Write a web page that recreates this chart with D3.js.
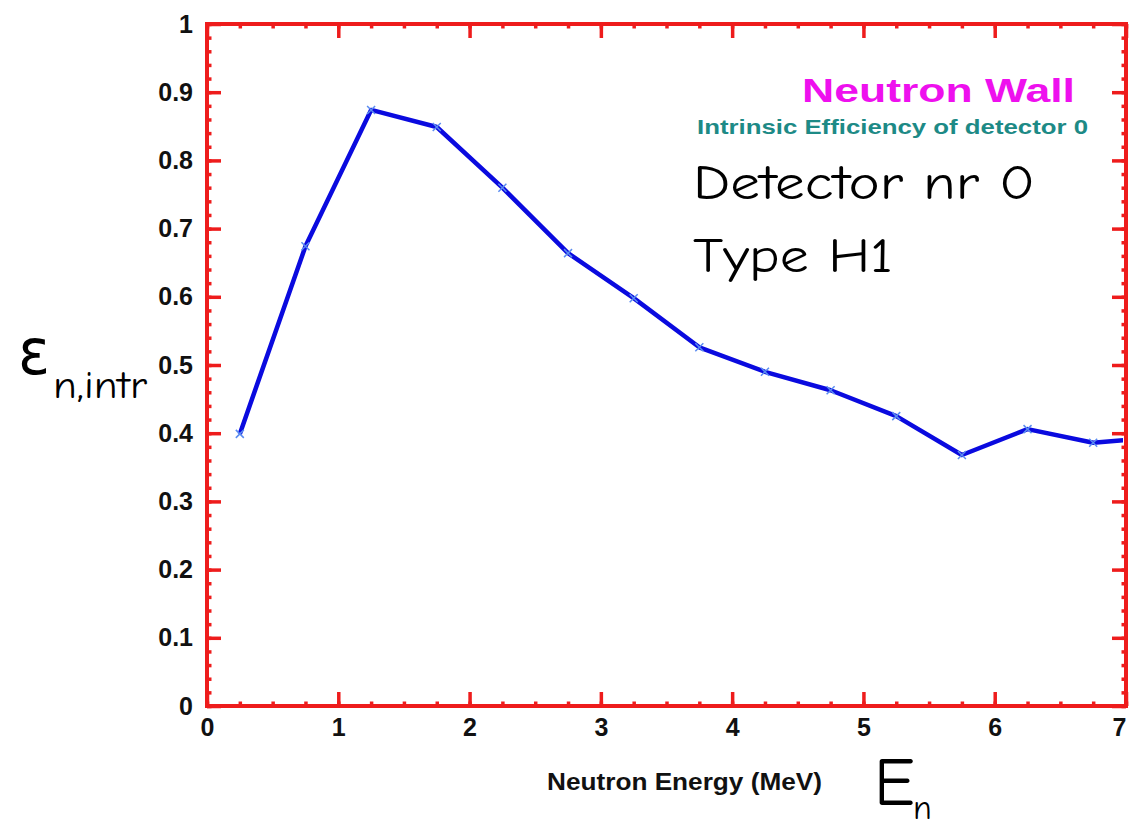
<!DOCTYPE html>
<html>
<head>
<meta charset="utf-8">
<script src="https://cdn.jsdelivr.net/npm/d3@7"></script>
<style>
  body { margin: 0; background: #fff; }
  .tick text { font-family: "Liberation Sans", Arial, sans-serif; font-weight: bold; font-size: 25px; fill: #111; }
  .comic { font-family: "Comic Sans MS", "Comic Neue", "DejaVu Sans", sans-serif; fill: #000; }
</style>
</head>
<body>
<svg id="chart" width="1129" height="829"></svg>
<script>
// neutron energy bins (MeV) and intrinsic efficiency of detector 0
const energy = [0.25, 0.75, 1.25, 1.75, 2.25, 2.75, 3.25, 3.75, 4.25, 4.75, 5.25, 5.75, 6.25, 6.75, 7.25];
const efficiency = [0.399, 0.674, 0.874, 0.849, 0.760, 0.664, 0.598, 0.526, 0.490, 0.463, 0.425, 0.368, 0.406, 0.386, 0.394];
const xTicks = [0, 1, 2, 3, 4, 5, 6, 7];
const yTicks = [0, 0.1, 0.2, 0.3, 0.4, 0.5, 0.6, 0.7, 0.8, 0.9, 1];

const mLeft = 207, mRight = 1126, mTop = 24, mBottom = 706;
const red = "#ee1c1c";

const svg = d3.select("#chart");

const x = d3.scaleLinear().domain([0, 7]).range([mLeft, mRight]);
const y = d3.scaleLinear().domain([0, 1]).range([mBottom, mTop]);

// axes: major + minor ticks, all pointing inward
function styleAxis(g) {
  g.select(".domain").remove();
  g.selectAll(".tick line").attr("stroke", red).attr("stroke-width", 3.5);
}

svg.append("g").attr("transform", `translate(${mLeft},0)`)
  .call(d3.axisLeft(y).tickValues(d3.range(0, 1.001, 0.02)).tickSize(-4.5).tickFormat(""))
  .call(styleAxis);
svg.append("g").attr("transform", `translate(${mLeft},0)`)
  .call(d3.axisLeft(y).tickValues(yTicks).tickSize(-14).tickPadding(14)
        .tickFormat(d => d === 0 || d === 1 ? d3.format("d")(d) : d3.format(".1f")(d)))
  .call(styleAxis);

svg.append("g").attr("transform", `translate(${mRight},0)`)
  .call(d3.axisRight(y).tickValues(d3.range(0, 1.001, 0.02)).tickSize(-4.5).tickFormat(""))
  .call(styleAxis);
svg.append("g").attr("transform", `translate(${mRight},0)`)
  .call(d3.axisRight(y).tickValues(yTicks).tickSize(-14).tickFormat(""))
  .call(styleAxis);

svg.append("g").attr("transform", `translate(0,${mBottom})`)
  .call(d3.axisBottom(x).tickValues(d3.range(0, 7.001, 0.25)).tickSize(-4.5).tickFormat(""))
  .call(styleAxis);
svg.append("g").attr("transform", `translate(0,${mBottom})`)
  .call(d3.axisBottom(x).tickValues(xTicks).tickSize(-14).tickPadding(12).tickFormat(d3.format("d")))
  .call(styleAxis)
  .call(g => g.selectAll(".tick text").filter(d => d === 7).attr("dx", -7));

svg.append("g").attr("transform", `translate(0,${mTop})`)
  .call(d3.axisTop(x).tickValues(d3.range(0, 7.001, 0.25)).tickSize(-4.5).tickFormat(""))
  .call(styleAxis);
svg.append("g").attr("transform", `translate(0,${mTop})`)
  .call(d3.axisTop(x).tickValues(xTicks).tickSize(-14).tickFormat(""))
  .call(styleAxis);

// frame
svg.append("rect")
  .attr("x", mLeft).attr("y", mTop)
  .attr("width", mRight - mLeft).attr("height", mBottom - mTop)
  .attr("fill", "none").attr("stroke", red).attr("stroke-width", 4);

// data line
svg.append("clipPath").attr("id", "plotclip")
  .append("rect").attr("x", mLeft).attr("y", mTop)
  .attr("width", mRight - mLeft - 3).attr("height", mBottom - mTop);

const pts = energy.map((e, i) => [e, efficiency[i]]);
const plot = svg.append("g").attr("clip-path", "url(#plotclip)");

plot.append("path")
  .datum(pts)
  .attr("fill", "none")
  .attr("stroke", "#0a0adf")
  .attr("stroke-width", 4.5)
  .attr("stroke-linejoin", "round")
  .attr("d", d3.line().x(d => x(d[0])).y(d => y(d[1])));

const m = 4;
plot.selectAll(".mark")
  .data(pts)
  .enter()
  .append("path")
  .attr("class", "mark")
  .attr("d", d => `M${x(d[0]) - m},${y(d[1]) - m}L${x(d[0]) + m},${y(d[1]) + m}M${x(d[0]) - m},${y(d[1]) + m}L${x(d[0]) + m},${y(d[1]) - m}`)
  .attr("stroke", "#5a8cf0")
  .attr("stroke-width", 1.5);

// titles
svg.append("text")
  .attr("x", 1075).attr("y", 102)
  .attr("text-anchor", "end")
  .attr("font-family", "'Liberation Sans', Arial, sans-serif")
  .attr("font-weight", "bold")
  .attr("font-size", 34)
  .attr("fill", "#ee10ee")
  .attr("textLength", 273).attr("lengthAdjust", "spacingAndGlyphs")
  .text("Neutron Wall");

svg.append("text")
  .attr("x", 1088).attr("y", 134)
  .attr("text-anchor", "end")
  .attr("font-family", "'Liberation Sans', Arial, sans-serif")
  .attr("font-weight", "bold")
  .attr("font-size", 21)
  .attr("fill", "#1d8a86")
  .attr("textLength", 391).attr("lengthAdjust", "spacingAndGlyphs")
  .text("Intrinsic Efficiency of detector 0");

svg.append("text").attr("class", "comic")
  .attr("x", 693).attr("y", 199)
  .attr("font-size", 48)
  .attr("textLength", 342).attr("lengthAdjust", "spacingAndGlyphs")
  .text("Detector nr 0");

svg.append("text").attr("class", "comic")
  .attr("x", 693).attr("y", 272)
  .attr("font-size", 48)
  .attr("textLength", 200).attr("lengthAdjust", "spacingAndGlyphs")
  .text("Type H1");

// axis titles
svg.append("text")
  .attr("x", 547).attr("y", 790)
  .attr("font-family", "'Liberation Sans', Arial, sans-serif")
  .attr("font-weight", "bold")
  .attr("font-size", 24)
  .attr("fill", "#111")
  .attr("textLength", 275).attr("lengthAdjust", "spacingAndGlyphs")
  .text("Neutron Energy (MeV)");

svg.append("text").attr("class", "comic")
  .attr("x", 874).attr("y", 805)
  .attr("font-size", 68)
  .text("E");
svg.append("text").attr("class", "comic")
  .attr("x", 913).attr("y", 819)
  .attr("font-size", 34)
  .text("n");

svg.append("text").attr("class", "comic")
  .attr("x", 18).attr("y", 374)
  .attr("font-size", 64)
  .attr("textLength", 32).attr("lengthAdjust", "spacingAndGlyphs")
  .text("ε");
svg.append("text").attr("class", "comic")
  .attr("x", 53).attr("y", 398)
  .attr("font-size", 38)
  .attr("textLength", 94).attr("lengthAdjust", "spacingAndGlyphs")
  .text("n,intr");
</script>
</body>
</html>
